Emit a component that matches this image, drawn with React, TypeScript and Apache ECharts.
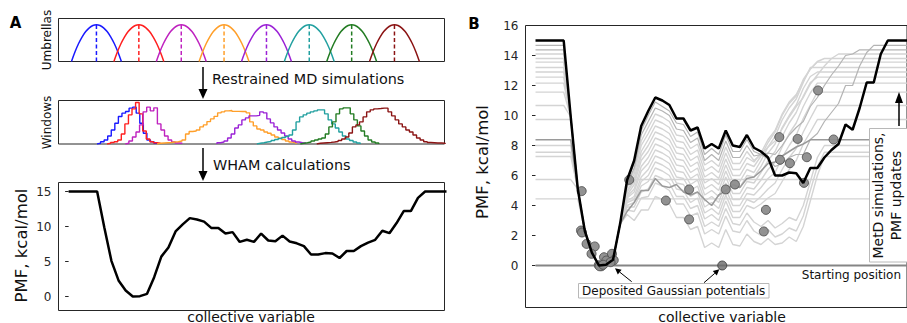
import { useEffect, useRef } from 'react';
import * as echarts from 'echarts';

const FONT = 'DejaVu Sans';
const INK = '#262626';

// collective-variable axis, in bin units (shared by every panel)
const CV_MIN = -1.42;
const CV_MAX = 52.72;

// final PMF (kcal/mol), one value per CV bin 0..53
const PMF = [15, 15, 15, 15, 15, 9.9, 5.1, 2.3, 0.86, 0, 0.05, 0.38, 2.76, 5.7, 7.0, 9.3, 10.3, 11.2, 11.0, 10.7,
  9.8, 9.8, 9.0, 9.2, 7.8, 8.1, 7.8, 9.0, 8.0, 7.9, 8.7, 7.85, 7.6, 7.2, 6.0, 6.0, 6.2, 6.15, 5.5, 6.5,
  6.5, 7.2, 7.7, 8.1, 9.4, 9.05, 10.5, 12.2, 12.2, 14.1, 15, 15, 15, 15];

// umbrellas
const UMBRELLA_CENTERS = [3.9, 9.85, 15.8, 21.8, 27.75, 33.75, 39.7, 45.7];
const UMBRELLA_COLORS = ['#1a1aff', '#ff1f1f', '#bf22bf', '#ff9f2a', '#9b22d6', '#22a0a0', '#237c23', '#8b1414'];
const UMBRELLA_DX = [-3.5, -3, -2.5, -2, -1.5, -1, -0.5, 0, 0.5, 1, 1.5, 2, 2.5, 3, 3.5];
const UMBRELLA_H = [0, 0.265, 0.49, 0.673, 0.816, 0.918, 0.98, 1, 0.98, 0.918, 0.816, 0.673, 0.49, 0.265, 0];

// window histograms (bin counts, arbitrary units)
const WINDOW_START = [3.98, 5.39, 7.95, 12.4, 20.8, 26.4, 32.5, 34.8];
const WINDOW_BIN = 0.5;
const WINDOW_BLUE = [0.7, 2.3, 4, 8, 14, 20.7, 27.3, 30.7, 32.3, 35.7, 36.7, 30.7, 20.7, 10.7, 4, 2.3, 0.7];
const WINDOW_RED = [0.7, 1.5, 2.3, 4, 10, 20, 29, 35, 41.3, 30, 13, 5, 2.3, 1.3, 0.7];
const WINDOW_MAGENTA = [0.7, 3, 7, 12, 19, 32, 36.7, 33, 36, 20, 14, 8, 4, 2, 1, 0.7];
const WINDOW_ORANGE = [0.7, 1, 1.3, 1.5, 2, 2.3, 3, 4, 10, 12.5, 13, 14, 17, 19, 22.3, 25, 27.5, 31, 32, 33, 33.3, 32.5, 32.5, 32.3, 32.3, 31, 22, 18, 15, 14, 12, 10.7, 9, 7, 5.7, 4.5, 3, 2, 1.3];
const WINDOW_PURPLE = [1.3, 2, 3, 6, 10, 16, 19, 24, 26, 28, 28, 28.5, 32, 31, 25, 21, 17, 14, 11, 8, 5, 3, 2, 1.3, 0.7];
const WINDOW_TEAL = [0.7, 1.3, 2, 2.5, 3.5, 4.5, 5.5, 6.5, 7.5, 9, 14, 22, 27, 29, 30.7, 32, 33, 34, 34, 30, 24, 20, 16, 12, 8, 5, 3.5, 2, 1];
const WINDOW_GREEN = [0.7, 1.3, 2, 3, 4, 5, 6, 10, 17, 22, 30, 35, 36, 36, 30, 24, 18, 13, 8, 4, 2, 1];
const WINDOW_MAROON = [0.7, 1, 1.3, 1.6, 2, 2.5, 3.5, 5, 7, 11, 17, 19, 22, 27, 32, 34, 35, 35.3, 35.7, 35.7, 32, 28, 24, 20, 17, 14, 12, 9, 6, 4, 2.3, 1.5, 1.3, 1, 1, 0.8];
const WINDOWS = [WINDOW_BLUE, WINDOW_RED, WINDOW_MAGENTA, WINDOW_ORANGE, WINDOW_PURPLE, WINDOW_TEAL, WINDOW_GREEN, WINDOW_MAROON];

// metadynamics PMF estimates: cap level, and values from bin 13 until the cap is reached
const GRAY_CAPS = [14.67, 14.38, 14.1, 13.8, 13.56, 13.2, 12.9, 12.56, 12.16, 11.56, 10.67, 9.73, 8.0, 7.55, 7.27];
const GRAY_1 = [5.6, 6.8, 9.0, 10.0, 10.9, 10.6, 10.3, 9.5, 9.4, 8.6, 8.9, 7.4, 7.8, 7.4, 8.7, 7.6, 7.6, 8.4, 7.6, 7.4, 7.1, 6.6, 6.8, 7.2, 7.4, 7.4, 8.4, 8.8, 9.6, 10.2, 10.8, 12.0, 12.0, 13.3, 14.2];
const GRAY_2 = [5.4, 6.5, 8.7, 9.6, 10.5, 10.3, 10.0, 9.1, 9.0, 8.2, 8.5, 7.0, 7.4, 7.0, 8.3, 7.2, 7.2, 8.0, 7.3, 7.4, 7.5, 7.4, 8.0, 8.7, 9.2, 9.6, 10.6, 11.2, 12.0, 12.7, 13.3, 14.0, 14.1];
const GRAY_3 = [5.3, 6.3, 8.3, 9.2, 10.1, 9.9, 9.6, 8.7, 8.6, 7.8, 8.1, 6.7, 7.0, 6.6, 7.9, 6.8, 6.8, 7.6, 7.0, 7.4, 7.9, 8.3, 9.1, 9.9, 10.6, 11.2, 12.1, 12.7, 13.3, 13.8];
const GRAY_4 = [5.2, 6.1, 8.0, 8.8, 9.7, 9.5, 9.2, 8.3, 8.2, 7.4, 7.7, 6.3, 6.6, 6.2, 7.5, 6.4, 6.4, 7.2, 6.9, 7.5, 8.4, 9.0, 10.1, 10.9, 11.4, 12.3, 13.1, 13.6];
const GRAY_5 = [5.0, 5.8, 7.6, 8.4, 9.3, 9.1, 8.8, 7.9, 7.8, 7.0, 7.3, 5.9, 6.2, 5.8, 7.1, 6.0, 6.0, 6.8, 6.6, 7.3, 8.2, 8.9, 10.0, 10.8, 11.3, 12.4, 13.1];
const GRAY_6 = [4.9, 5.6, 7.3, 8.0, 8.9, 8.7, 8.4, 7.5, 7.4, 6.6, 6.9, 5.5, 5.8, 5.4, 6.7, 5.6, 5.6, 6.4, 6.2, 7.0, 7.9, 8.6, 9.7, 10.5, 11.1, 12.2];
const GRAY_7 = [4.7, 5.4, 7.0, 7.6, 8.5, 8.3, 8.0, 7.1, 7.0, 6.2, 6.5, 5.1, 5.4, 5.0, 6.3, 5.2, 5.2, 6.0, 5.9, 6.6, 7.5, 8.1, 9.2, 10.0, 10.7, 11.8, 12.6];
const GRAY_8 = [4.6, 5.1, 6.6, 7.2, 8.1, 7.9, 7.6, 6.7, 6.6, 5.8, 6.1, 4.7, 5.0, 4.6, 5.9, 4.8, 4.8, 5.6, 5.5, 6.2, 7.0, 7.6, 8.6, 9.5, 10.2, 11.3, 12.2];
const GRAY_9 = [4.5, 4.9, 6.3, 6.8, 7.7, 7.5, 7.2, 6.3, 6.2, 5.4, 5.7, 4.3, 4.6, 4.2, 5.5, 4.4, 4.4, 5.2, 5.1, 5.7, 6.4, 6.9, 7.9, 8.8, 9.5, 10.6, 11.5];
const GRAY_10 = [4.3, 4.6, 5.9, 6.4, 7.3, 7.1, 6.8, 5.9, 5.8, 5.0, 5.3, 3.9, 4.2, 3.8, 5.1, 4.0, 4.0, 4.8, 4.7, 5.2, 5.8, 6.2, 7.2, 8.0, 8.7, 9.8, 10.7];
const GRAY_11 = [4.2, 4.4, 5.6, 6.0, 6.9, 6.7, 6.4, 5.5, 5.4, 4.6, 4.9, 3.5, 3.8, 3.4, 4.7, 3.6, 3.6, 4.4, 4.2, 4.6, 5.1, 5.5, 6.4, 7.2, 7.8, 8.9, 9.8];
const GRAY_12 = [4.0, 4.2, 5.3, 5.6, 6.5, 6.3, 6.0, 5.1, 5.0, 4.2, 4.5, 3.1, 3.4, 3.0, 4.3, 3.2, 3.2, 4.0, 3.8, 4.1, 4.5, 4.8, 5.6, 6.4, 7.0, 8.1, 8.9];
const GRAY_13 = [3.9, 3.9, 4.9, 5.1, 6.0, 5.8, 5.5, 4.6, 4.6, 3.8, 4.0, 2.6, 2.9, 2.6, 3.8, 2.8, 2.7, 3.5, 2.9, 2.6, 3.0, 2.5, 2.8, 3.2, 3.0, 4.0, 5.6, 7.2];
const GRAY_14 = [3.7, 3.6, 4.5, 4.6, 5.5, 5.3, 5.0, 4.1, 4.1, 3.3, 3.5, 2.1, 2.4, 2.1, 3.3, 2.3, 2.2, 3.0, 2.3, 2.0, 2.4, 1.9, 2.1, 2.5, 2.3, 3.3, 5.0, 6.6];
const GRAY_15 = [3.4, 3.0, 3.7, 3.7, 4.6, 4.4, 4.1, 3.2, 3.2, 2.4, 2.6, 1.2, 1.5, 1.2, 2.4, 1.4, 1.3, 2.1, 1.6, 1.4, 1.8, 1.4, 1.5, 1.9, 1.6, 2.6, 4.3, 6.0];
const GRAY_TAILS = [GRAY_1, GRAY_2, GRAY_3, GRAY_4, GRAY_5, GRAY_6, GRAY_7, GRAY_8, GRAY_9, GRAY_10, GRAY_11, GRAY_12, GRAY_13, GRAY_14, GRAY_15];
const MID_GRAY = [0, 1]; // indices of the darker, later-rising estimates
const DARK_CAP = 8.38;
const DARK_TAIL = [3.6, 4.2, 5.0, 5.0, 5.8, 5.3, 5.2, 5.4, 4.9, 4.7, 4.9, 4.4, 4.0, 4.7, 5.0, 5.4, 5.2, 5.8, 5.9, 6.3, 6.8, 6.9, 7.3, 7.6, 7.9, 8.1];
const FLAT_CAPS = [5.73, 4.44];
const START_LEVEL = 0;

// deposited Gaussian centres (CV bin, PMF)
const DEPOSIT_CV = [6.55, 6.45, 6.6, 7.25, 8.4, 7.95, 8.98, 9.35, 9.72, 10.05, 10.85, 11.1, 10.65, 9.1, 9.6,
  13.3, 18.5, 21.8, 21.8, 27.0, 28.3, 32.7, 32.4, 34.7, 36.1, 38.5, 38.1, 34.6, 37.2, 40.1, 42.3];
const DEPOSIT_PMF = [4.96, 2.33, 2.2, 1.44, 1.27, 0.78, 0.02, -0.05, 0.55, 0.33, 0.78, 0.35, 0.22, -0.05, 0.05,
  5.71, 4.33, 5.07, 3.07, 5.07, 5.4, 3.71, 2.27, 7.05, 6.82, 7.22, 5.51, 8.56, 8.44, 11.67, 8.4];
const START_CV = 26.5;

const LAST_BIN = PMF.length - 1;

function estimate(cap: number, tail: number[]) {
  const pts: number[][] = [];
  for (let i = 0; i <= LAST_BIN; i++) {
    let v: number;
    if (i < 13) v = Math.min(cap, PMF[i]);
    else if (i - 13 < tail.length) v = tail[i - 13];
    else v = cap;
    pts.push([i, v]);
  }
  return pts;
}

function flat(cap: number) {
  const pts: number[][] = [];
  for (let i = 0; i <= LAST_BIN; i++) pts.push([i, i <= 13 ? Math.min(cap, PMF[i]) : cap]);
  return pts;
}

function histogram(start: number, counts: number[]) {
  const pts: number[][] = [[start, 0]];
  counts.forEach((c, i) => {
    pts.push([start + i * WINDOW_BIN, c]);
    pts.push([start + (i + 1) * WINDOW_BIN, c]);
  });
  pts.push([start + counts.length * WINDOW_BIN, 0]);
  return pts;
}

function buildOption() {
  const grid = (left: number, top: number, width: number, height: number, show: boolean) => ({
    left, top, width, height, show, borderColor: INK, borderWidth: 1, backgroundColor: 'transparent',
  });
  const hiddenX = (gridIndex: number) => ({ type: 'value', gridIndex, min: CV_MIN, max: CV_MAX, show: false });
  const hiddenY = (gridIndex: number, min: number, max: number) => ({ type: 'value', gridIndex, min, max, show: false });
  const tickY = (gridIndex: number, max: number, interval: number) => ({
    type: 'value', gridIndex, min: 0, max, interval, position: 'left',
    axisLine: { show: false },
    axisTick: { show: true, length: 3.5, lineStyle: { color: INK, width: 1 } },
    axisLabel: { fontSize: 12, color: INK, fontFamily: FONT, margin: 7 },
    splitLine: { show: false },
  });

  const series: any[] = [];
  // umbrellas
  UMBRELLA_CENTERS.forEach((c, k) => {
    series.push({
      type: 'line', xAxisIndex: 0, yAxisIndex: 0, symbol: 'none', smooth: 0.35,
      data: UMBRELLA_DX.map((dx, j) => [c + dx, UMBRELLA_H[j]]),
      lineStyle: { color: UMBRELLA_COLORS[k], width: 1.5 },
    });
    series.push({
      type: 'line', xAxisIndex: 0, yAxisIndex: 0, symbol: 'none',
      data: [[c, 0], [c, 1]],
      lineStyle: { color: UMBRELLA_COLORS[k], width: 1.5, type: [4, 2.5] },
    });
  });
  // windows
  WINDOWS.forEach((counts, k) => {
    series.push({
      type: 'line', xAxisIndex: 1, yAxisIndex: 1, symbol: 'none',
      data: histogram(WINDOW_START[k], counts),
      lineStyle: { color: UMBRELLA_COLORS[k], width: 1.4 },
    });
  });
  // PMF A
  series.push({
    type: 'line', xAxisIndex: 2, yAxisIndex: 2, symbol: 'none',
    data: PMF.map((v, i) => [i, v]),
    lineStyle: { color: '#000', width: 2.5 },
  });
  series.push({ type: 'line', xAxisIndex: 3, yAxisIndex: 3, data: [] });
  series.push({ type: 'line', xAxisIndex: 5, yAxisIndex: 5, data: [] });

  // B: estimates
  FLAT_CAPS.forEach((cap) => {
    series.push({
      type: 'line', xAxisIndex: 4, yAxisIndex: 4, symbol: 'none', data: flat(cap),
      lineStyle: { color: '#d4d4d4', width: 1.4 },
    });
  });
  GRAY_CAPS.forEach((cap, k) => {
    if (MID_GRAY.includes(k)) return;
    series.push({
      type: 'line', xAxisIndex: 4, yAxisIndex: 4, symbol: 'none', data: estimate(cap, GRAY_TAILS[k]),
      lineStyle: { color: '#d4d4d4', width: 1.4 },
    });
  });
  MID_GRAY.forEach((k) => {
    series.push({
      type: 'line', xAxisIndex: 4, yAxisIndex: 4, symbol: 'none', data: estimate(GRAY_CAPS[k], GRAY_TAILS[k]),
      lineStyle: { color: '#b4b4b4', width: 1.2 },
    });
  });
  series.push({
    type: 'line', xAxisIndex: 4, yAxisIndex: 4, symbol: 'none', data: estimate(DARK_CAP, DARK_TAIL),
    lineStyle: { color: '#9a9a9a', width: 1.5 },
  });
  series.push({
    type: 'line', xAxisIndex: 4, yAxisIndex: 4, symbol: 'none', data: flat(START_LEVEL),
    lineStyle: { color: '#858585', width: 2 },
  });
  series.push({
    type: 'scatter', xAxisIndex: 4, yAxisIndex: 4, symbol: 'circle', symbolSize: 9,
    data: DEPOSIT_CV.map((x, i) => [x, DEPOSIT_PMF[i]]),
    itemStyle: { color: '#8c8c8c', borderColor: '#555', borderWidth: 1, opacity: 0.95 },
    z: 3,
  });
  series.push({
    type: 'scatter', xAxisIndex: 4, yAxisIndex: 4, symbol: 'circle', symbolSize: 9,
    data: [[START_CV, START_LEVEL]],
    itemStyle: { color: '#6a6a6a', borderColor: '#333', borderWidth: 1 },
    z: 3,
  });
  series.push({
    type: 'line', xAxisIndex: 4, yAxisIndex: 4, symbol: 'none', z: 4,
    data: PMF.map((v, i) => [i, v]),
    lineStyle: { color: '#000', width: 2.5 },
  });

  const txt = (text: string, x: number, y: number, size: number, opts: any = {}) => ({
    type: 'text', x, y, rotation: opts.rot ? Math.PI / 2 : 0, z: 100,
    style: {
      text, fontSize: size, fontFamily: FONT, fontWeight: opts.bold ? 'bold' : 'normal',
      fill: opts.fill || '#111', align: opts.align || 'center', verticalAlign: 'middle',
    },
  });
  const line = (x1: number, y1: number, x2: number, y2: number, w = 1.5) => ({
    type: 'line', z: 100, shape: { x1, y1, x2, y2 }, style: { stroke: '#000', lineWidth: w },
  });
  const tri = (pts: number[][]) => ({ type: 'polygon', z: 100, shape: { points: pts }, style: { fill: '#000' } });

  const graphic = [
    txt('A', 15.5, 23, 15, { bold: true, fill: '#000' }),
    txt('B', 474, 23.5, 15, { bold: true, fill: '#000' }),
    txt('Umbrellas', 47, 40, 12, { rot: true }),
    txt('Windows', 47, 122.5, 12, { rot: true }),
    txt('PMF, kcal/mol', 21, 245.5, 16.5, { rot: true }),
    txt('PMF, kcal/mol', 482, 162, 16.5, { rot: true }),
    txt('collective variable', 251, 316.5, 14),
    txt('collective variable', 722, 316.5, 14),
    line(203, 67, 203, 90),
    tri([[198.5, 89], [207.5, 89], [203, 99]]),
    txt('Restrained MD simulations', 212, 79, 14.4, { align: 'left' }),
    line(203, 148, 203, 172),
    tri([[198.5, 171], [207.5, 171], [203, 181]]),
    txt('WHAM calculations', 213, 165, 14.4, { align: 'left' }),
    // B annotations
    { type: 'rect', z: 100, shape: { x: 578.5, y: 283.5, width: 190.5, height: 14.5 }, style: { fill: '#fff', stroke: '#b8b8b8', lineWidth: 1 } },
    txt('Deposited Gaussian potentials', 673.7, 290.8, 12),
    line(631.7, 281.7, 619.7, 272.1, 1),
    tri([[615, 268.3], [621.6, 269.7], [617.8, 274.4]]),
    line(704, 282.7, 714.8, 273.3, 1),
    tri([[719.3, 269.3], [716.8, 275.6], [712.8, 271.0]]),
    txt('Starting position', 901, 275, 12, { align: 'right' }),
    { type: 'rect', z: 100, shape: { x: 869.5, y: 128.5, width: 44, height: 133.5 }, style: { fill: '#fff', stroke: '#b8b8b8', lineWidth: 1 } },
    txt('MetD simulations,', 878, 195.5, 14, { rot: true }),
    txt('PMF updates', 896, 195.5, 14, { rot: true }),
    line(899, 126, 899, 102),
    tri([[895, 103], [903, 103], [899, 92]]),
  ];

  return {
    animation: false,
    backgroundColor: '#fff',
    grid: [
      grid(58.5, 18.5, 386, 43, true),
      grid(58.5, 100.5, 386, 43.5, true),
      grid(58.5, 182.5, 386, 128, true),
      grid(58.5, 191.5, 386, 105, false),
      grid(525.5, 25.5, 386, 282, true),
      grid(525.5, 25.5, 386, 240, false),
    ],
    xAxis: [0, 1, 2, 3, 4, 5].map(hiddenX),
    yAxis: [
      hiddenY(0, 0, 1.172),
      hiddenY(1, 0, 43.3),
      hiddenY(2, -2, 16.29),
      tickY(3, 15, 5),
      hiddenY(4, -2.8, 16),
      tickY(5, 16, 2),
    ],
    series,
    graphic,
  };
}

export default function App() {
  const ref = useRef<HTMLDivElement>(null);
  useEffect(() => {
    const chart = echarts.init(ref.current!, undefined, { renderer: 'svg' });
    chart.setOption(buildOption() as any);
    return () => chart.dispose();
  }, []);
  return (
    <div
      ref={ref}
      style={{ position: 'fixed', left: 0, top: 0, width: 907, height: 323, background: '#fff' }}
    />
  );
}
